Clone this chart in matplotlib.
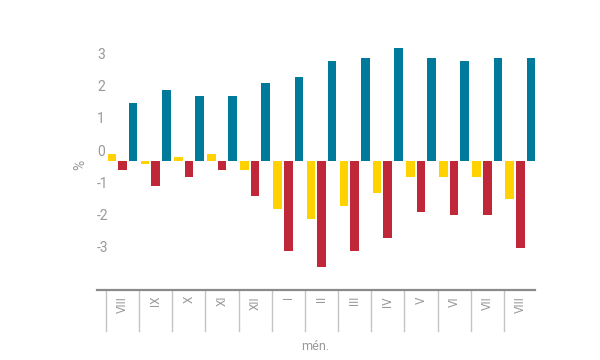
import matplotlib
matplotlib.use("Agg")
import matplotlib.pyplot as plt
import numpy as np
from matplotlib.transforms import blended_transform_factory

months = ["VIII", "IX", "X", "XI", "XII", "I", "II", "III", "IV", "V", "VI", "VII", "VIII"]
yellow = [0.2, -0.1, 0.1, 0.2, -0.3, -1.5, -1.8, -1.4, -1.0, -0.5, -0.5, -0.5, -1.2]
red = [-0.3, -0.8, -0.5, -0.3, -1.1, -2.8, -3.3, -2.8, -2.4, -1.6, -1.7, -1.7, -2.7]
blue = [1.8, 2.2, 2.0, 2.0, 2.4, 2.6, 3.1, 3.2, 3.5, 3.2, 3.1, 3.2, 3.2]
yticks = [-3, -2, -1, 0, 1, 2, 3]
ytick_labels = ["-3", "-2", "-1", "0", "1", "2", "3"]

plt.rcParams['font.family'] = ["Roboto", "DejaVu Sans"]
GREY = "#999999"

fig = plt.figure(figsize=(6, 3.6), dpi=100)
# axes pixel box: x 97..535, y 40..290
ax = fig.add_axes([97/600, (360-290)/360, (535-97)/600, 250/360])
ax.set_xlim(-0.27, 12.94)
ax.set_ylim(-4.015, 3.748)

x = np.arange(len(months))
w = 0.26
ax.bar(x + 0.18, yellow, width=w, color="#FFD200", linewidth=0)
ax.bar(x + 0.50, red, width=w, color="#C0283A", linewidth=0)
ax.bar(x + 0.82, blue, width=w, color="#007A9A", linewidth=0)

for s in ["top", "right", "left"]:
    ax.spines[s].set_visible(False)
ax.spines["bottom"].set_color("#8a8a8a")
ax.spines["bottom"].set_linewidth(1.6)
ax.set_yticks([])
ax.set_xticks([])

# y tick labels sitting just above their value lines
for v, lab in zip(yticks, ytick_labels):
    ax.text(-0.27, v + 0.28, lab, ha="left", va="center", fontsize=10, color=GREY)

# category separator lines below axis
tr = blended_transform_factory(ax.transData, fig.transFigure)
for i in range(len(months)):
    ax.plot([i, i], [(360-291)/360, (360-331)/360], transform=tr, color="#c4c4c4",
            linewidth=1.0, clip_on=False)
    ax.text(i + 0.5, (360-296)/360, months[i], transform=tr, rotation=90,
            ha="center", va="top", fontsize=8.5, color=GREY)

fig.text(315/600, (360-347)/360, "mén.", ha="center", va="center", fontsize=9, color=GREY)
fig.text(80/600, (360-165)/360, "%", ha="center", va="center", rotation=90,
         fontsize=10, color=GREY)

fig.savefig("out.png", dpi=100)
